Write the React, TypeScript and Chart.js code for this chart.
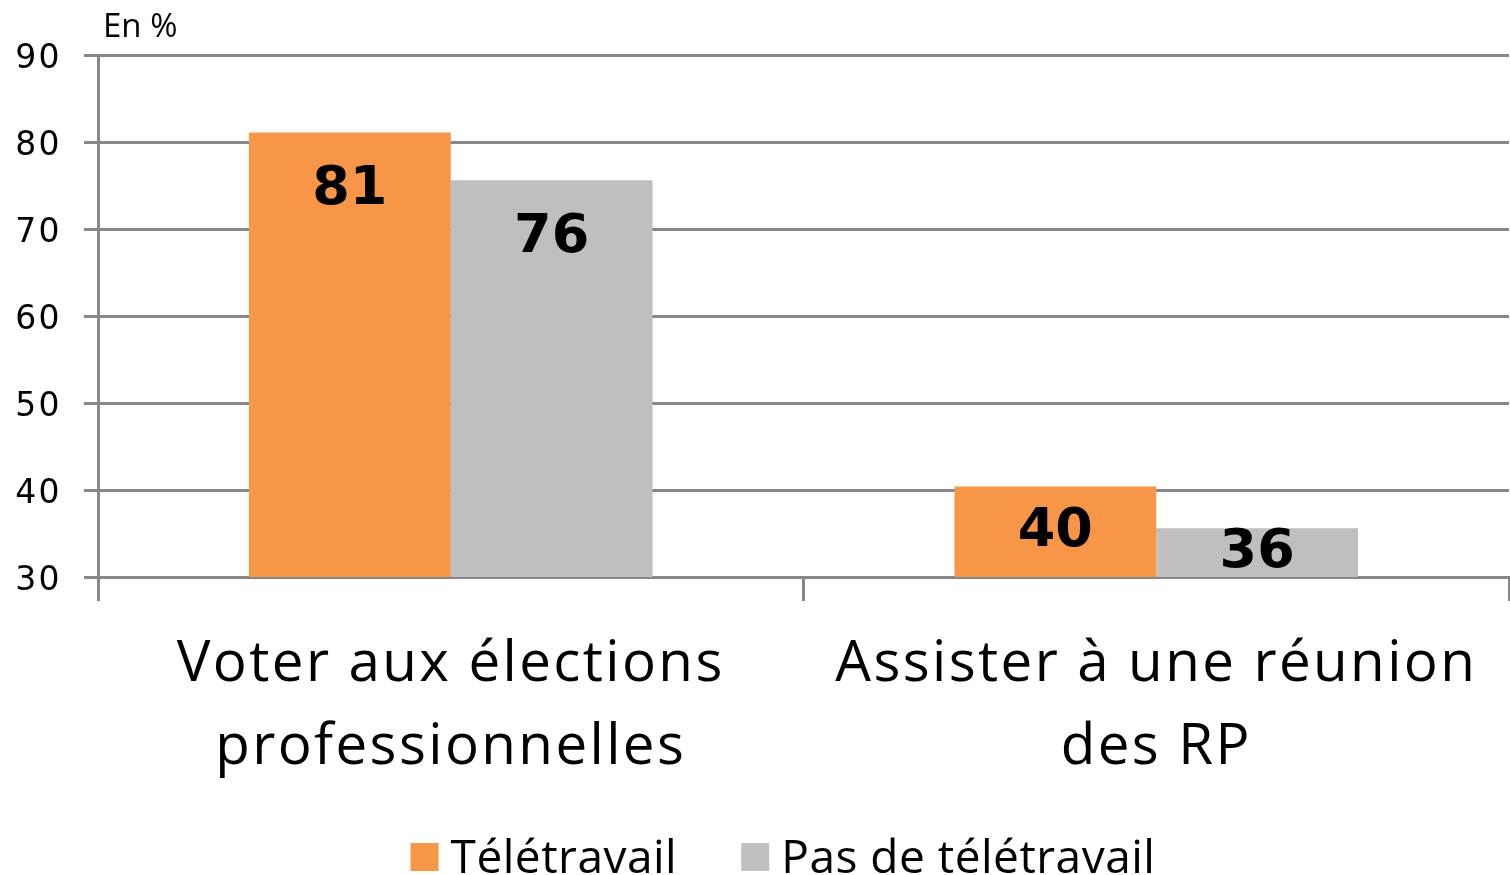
import React, { useEffect, useRef } from "react";
import { Chart, registerables } from "chart.js";

Chart.register(...registerables);

const categories: string[][] = [
  ["Voter aux élections", "professionnelles"],
  ["Assister à une réunion", "des RP"],
];
const seriesNames = ["Télétravail", "Pas de télétravail"];
const teletravail = [81.1, 40.4];
const pasTeletravail = [75.6, 35.6];
const seriesColors = ["#F79646", "#BFBFBF"];
const yMin = 30;
const yMax = 90;
const yStep = 10;
const unitTitle = "En %";

const GRID = "#878787";

const overlayPlugin = {
  id: "overlay",
  beforeDraw(chart: any) {
    // wide, spaced lettering of the axis labels
    (chart.ctx as any).letterSpacing = "2.4px";
  },
  beforeDatasetsDraw(chart: any) {
    (chart.ctx as any).letterSpacing = "0px";
  },
  afterDatasetsDraw(chart: any) {
    const ctx = chart.ctx;
    const yScale = chart.scales.y;
    ctx.save();
    ctx.fillStyle = "#000";
    ctx.font = "bold 54px 'DejaVu Sans'";
    ctx.textAlign = "center";
    ctx.textBaseline = "middle";
    chart.data.datasets.forEach((ds: any, di: number) => {
      const meta = chart.getDatasetMeta(di);
      meta.data.forEach((bar: any, i: number) => {
        const v = ds.data[i];
        const top = bar.y;
        const bottom = yScale.getPixelForValue(yMin);
        const cy = Math.min(top + 58, (top + bottom) / 2);
        ctx.fillText(String(Math.round(v)), bar.x, cy);
      });
    });
    ctx.restore();
  },
  afterDraw(chart: any) {
    const ctx = chart.ctx;
    ctx.save();
    (ctx as any).letterSpacing = "0px";
    ctx.fillStyle = "#000";
    ctx.font = "33px 'Open Sans'";
    ctx.textAlign = "left";
    ctx.textBaseline = "alphabetic";
    ctx.fillText(unitTitle, 103, 37);
    // legend
    (ctx as any).letterSpacing = "0.5px";
    ctx.font = "46px 'Open Sans'";
    const box = 28;
    const gapBoxText = 12;
    const gapItems = 64;
    const widths = chart.data.datasets.map((d: any) => box + gapBoxText + ctx.measureText(d.label).width);
    const total = widths.reduce((a: number, b: number) => a + b, 0) + gapItems * (widths.length - 1);
    let x = 783 - total / 2;
    const baseline = 873;
    chart.data.datasets.forEach((d: any, i: number) => {
      ctx.fillStyle = d.backgroundColor;
      ctx.fillRect(x, baseline - 30, box, box);
      ctx.fillStyle = "#000";
      ctx.fillText(d.label, x + box + gapBoxText, baseline);
      x += widths[i] + gapItems;
    });
    ctx.restore();
  },
};

export default function App() {
  const ref = useRef<HTMLCanvasElement>(null);
  useEffect(() => {
    if (!ref.current) return;
    const chart = new Chart(ref.current, {
      type: "bar",
      data: {
        labels: categories,
        datasets: [
          { label: seriesNames[0], data: teletravail, backgroundColor: seriesColors[0] },
          { label: seriesNames[1], data: pasTeletravail, backgroundColor: seriesColors[1] },
        ],
      },
      options: {
        animation: false,
        responsive: false,
        maintainAspectRatio: false,
        layout: { padding: { top: 55, left: 0, right: 1, bottom: 0 } },
        datasets: { bar: { categoryPercentage: 0.572, barPercentage: 1 } },
        plugins: {
          legend: { display: false },
          tooltip: { enabled: false },
          title: { display: false },
        },
        scales: {
          x: {
            grid: {
              offset: true,
              drawOnChartArea: false,
              drawTicks: true,
              tickLength: 24,
              lineWidth: 3,
              color: GRID,
            },
            border: { display: true, color: GRID, width: 3 },
            ticks: {
              color: "#000",
              font: { family: "'Open Sans'", size: 56.5, lineHeight: 1.46 },
              padding: 23,
              maxRotation: 0,
              autoSkip: false,
            },
            afterFit(scale: any) {
              scale.height = 298;
            },
          },
          y: {
            min: yMin,
            max: yMax,
            grid: { color: GRID, lineWidth: 3, tickLength: 14, drawTicks: true },
            border: { display: true, color: GRID, width: 3 },
            ticks: {
              stepSize: yStep,
              color: "#000",
              font: { family: "'DejaVu Sans'", size: 33 },
              padding: 22,
              labelOffset: 4,
            },
            afterFit(scale: any) {
              scale.width = 98;
            },
          },
        },
      },
      plugins: [overlayPlugin],
    });
    return () => chart.destroy();
  }, []);
  return (
    <div style={{ position: "fixed", left: 0, top: 0, width: 1510, height: 875, background: "#fff" }}>
      <canvas ref={ref} width={1510} height={875} style={{ width: 1510, height: 875, display: "block" }} />
    </div>
  );
}
